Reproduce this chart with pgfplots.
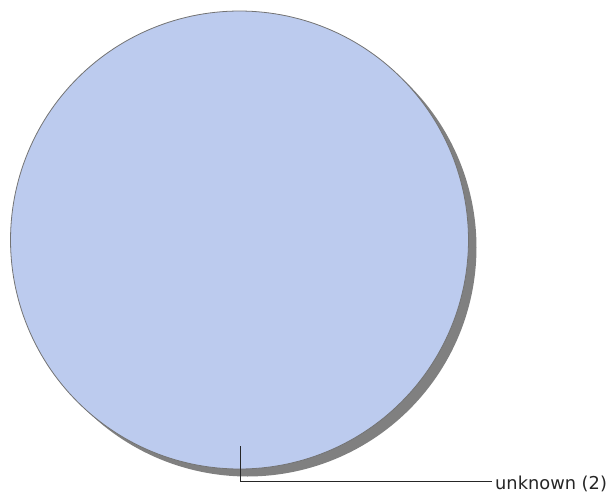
\documentclass[border=0pt]{standalone}
\usepackage{fontspec}
\setmainfont{DejaVu Sans}
\usepackage{pgfplots}
\usepackage{pgfplotstable}
\pgfplotsset{compat=1.18}
\definecolor{slicefill}{HTML}{BCCBEE}
\definecolor{shadowgray}{HTML}{808080}
\pgfplotstableread{
label value
unknown 2
}\piedata
\pgfplotstablegetelem{0}{value}\of\piedata
\let\sliceval\pgfplotsretval
\pgfmathsetmacro{\total}{2}
\pgfmathsetmacro{\span}{360*\sliceval/\total}
\begin{document}
\begin{tikzpicture}
\begin{axis}[
  scale only axis, width=614pt, height=493pt,
  xmin=0, xmax=614, ymin=0, ymax=493, y dir=reverse,
  hide axis, clip=false,
]
% shadow
\addplot[draw=none, fill=shadowgray, domain=0:\span, samples=241]
  ({247.5+229*cos(x)}, {247.5+229*sin(x)}) -- cycle;
% slice
\addplot[draw=black!55, line width=0.8pt, fill=slicefill, domain=0:\span, samples=241]
  ({239.5+229*cos(x)}, {240+229*sin(x)}) -- cycle;
\draw[black!85, line width=1pt] (axis cs:240,446) -- (axis cs:240,481.5) -- (axis cs:492,481.5);
\node[anchor=base west, inner sep=0pt, font=\fontsize{17.8}{21}\selectfont, text=black!85] at (axis cs:495,489) {unknown (2)};
\end{axis}
\pgfresetboundingbox
\useasboundingbox (current axis.south west) rectangle (current axis.north east);
\end{tikzpicture}
\end{document}
